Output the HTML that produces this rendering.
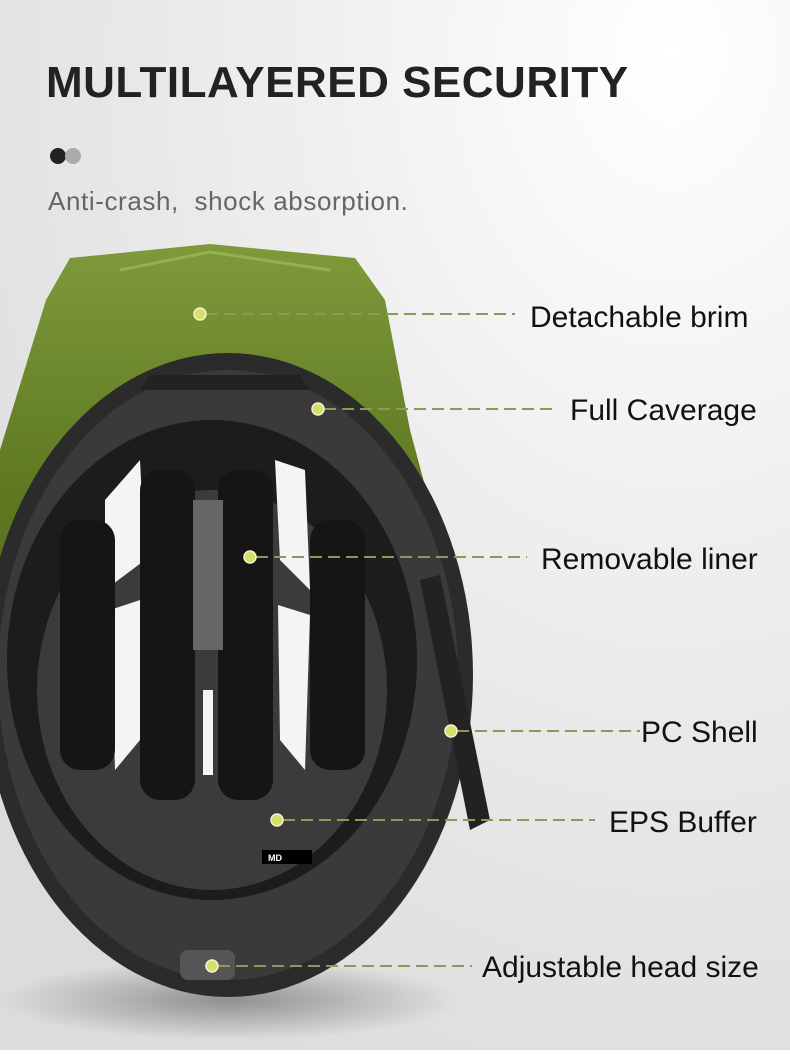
<!DOCTYPE html>
<html><head><meta charset="utf-8"><style>
body{margin:0;width:790px;height:1050px;overflow:hidden;font-family:"Liberation Sans",sans-serif}
</style></head><body>
<svg width="790" height="1050" viewBox="0 0 790 1050" xmlns="http://www.w3.org/2000/svg">
<defs>
<radialGradient id="bg" cx="0.85" cy="0.05" r="1.1">
<stop offset="0" stop-color="#ffffff"/><stop offset="0.5" stop-color="#ececec"/><stop offset="1" stop-color="#dcdcdc"/>
</radialGradient>
<linearGradient id="gr" x1="0" y1="0" x2="0" y2="1">
<stop offset="0" stop-color="#7e9a3a"/><stop offset="0.5" stop-color="#5f7a22"/><stop offset="1" stop-color="#4c6418"/>
</linearGradient>
<radialGradient id="sh" cx="0.5" cy="0.5" r="0.5">
<stop offset="0" stop-color="#000" stop-opacity="0.35"/><stop offset="1" stop-color="#000" stop-opacity="0"/>
</radialGradient>
</defs>
<rect width="790" height="1050" fill="url(#bg)"/>
<text x="46" y="97" font-size="44" font-weight="bold" fill="#222" letter-spacing="0.5">MULTILAYERED SECURITY</text>
<circle cx="58" cy="156" r="8" fill="#222"/><circle cx="73" cy="156" r="8" fill="#aaa"/>
<text x="48" y="210" font-size="26" fill="#666" letter-spacing="0.6" xml:space="preserve">Anti-crash,  shock absorption.</text>
<ellipse cx="230" cy="1000" rx="230" ry="40" fill="url(#sh)"/>
<path d="M46,300 L70,258 L210,244 L355,258 L385,300 L410,430 L445,560 L470,720 L0,720 L0,450 Z" fill="url(#gr)"/>
<path d="M120,270 L210,252 L330,270" stroke="#a8c060" stroke-width="3" fill="none" opacity="0.6"/>
<ellipse cx="228" cy="675" rx="245" ry="322" fill="#2b2b2b"/>
<ellipse cx="228" cy="675" rx="230" ry="305" fill="#3a3a3a"/>
<path d="M150,375 L300,375 L310,390 L140,390 Z" fill="#222"/>
<ellipse cx="212" cy="660" rx="205" ry="240" fill="#1c1c1c"/>
<ellipse cx="212" cy="690" rx="175" ry="200" fill="#3b3b3b"/>
<g fill="#f4f4f4">
<path d="M105,500 L140,460 L145,560 L105,590 Z"/>
<path d="M275,460 L305,470 L310,590 L280,560 Z"/>
<path d="M110,610 L140,600 L140,740 L115,770 Z"/>
<path d="M278,605 L310,615 L305,770 L280,740 Z"/>
<rect x="203" y="690" width="10" height="85"/>
</g>
<g fill="#151515">
<rect x="140" y="470" width="55" height="330" rx="20"/>
<rect x="218" y="470" width="55" height="330" rx="20"/>
<rect x="60" y="520" width="55" height="250" rx="20"/>
<rect x="310" y="520" width="55" height="250" rx="20"/>
</g>
<rect x="193" y="500" width="30" height="150" fill="#666"/>
<rect x="262" y="850" width="50" height="14" fill="#000"/>
<text x="268" y="861" font-size="9" fill="#fff" font-weight="bold">MD</text>
<path d="M420,580 L440,575 L490,820 L470,830 Z" fill="#222"/>
<rect x="180" y="950" width="55" height="30" rx="8" fill="#555"/>
<g stroke="#8a9a5a" stroke-width="2" stroke-dasharray="12,6" fill="none">
<line x1="206" y1="314" x2="515" y2="314"/>
<line x1="324" y1="409" x2="555" y2="409"/>
<line x1="256" y1="557" x2="527" y2="557"/>
<line x1="457" y1="731" x2="640" y2="731"/>
<line x1="283" y1="820" x2="595" y2="820"/>
<line x1="218" y1="966" x2="472" y2="966"/>
</g>
<g fill="#d4e06a" stroke="#f4f4d0" stroke-width="1.5">
<circle cx="200" cy="314" r="6"/><circle cx="318" cy="409" r="6"/><circle cx="250" cy="557" r="6"/>
<circle cx="451" cy="731" r="6"/><circle cx="277" cy="820" r="6"/><circle cx="212" cy="966" r="6"/>
</g>
<g font-size="30" fill="#111">
<text x="530" y="327">Detachable brim</text>
<text x="570" y="420">Full Caverage</text>
<text x="541" y="569">Removable liner</text>
<text x="641" y="742">PC Shell</text>
<text x="609" y="832">EPS Buffer</text>
<text x="482" y="977">Adjustable head size</text>
</g>
</svg>
</body></html>
